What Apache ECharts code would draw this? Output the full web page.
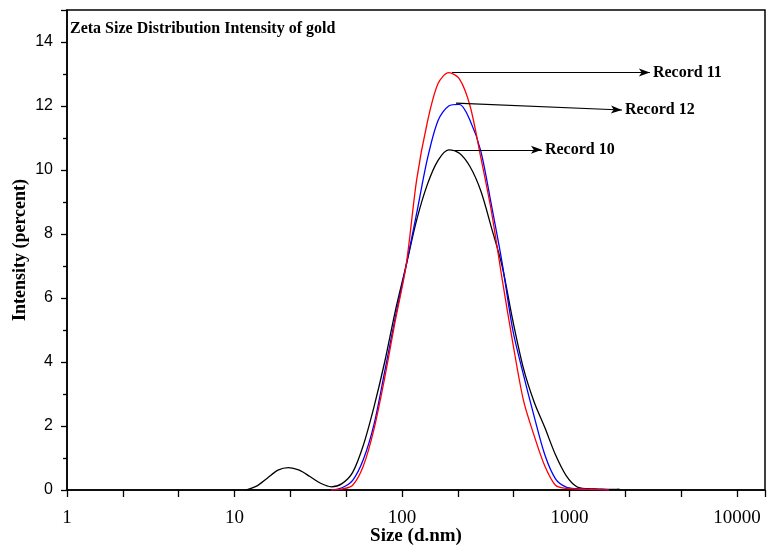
<!DOCTYPE html>
<html>
<head>
<meta charset="utf-8">
<script src="https://cdn.jsdelivr.net/npm/echarts@6/dist/echarts.min.js"></script>
<style>
  html, body { margin: 0; padding: 0; background: #fff; }
  #chart { width: 778px; height: 549px; }
</style>
</head>
<body>
<div id="chart"></div>
<script>
// size bins (d.nm)
const sizes = [11.7, 13.54, 15.69, 18.17, 21.04, 24.36, 28.21, 32.67, 37.84, 43.82,
  50.75, 58.77, 68.06, 78.82, 91.28, 105.7, 122.4, 141.8, 164.2, 190.1,
  220.2, 255, 295.3, 342, 396.1, 458.7, 531.2, 615.1, 712.4, 825,
  955.4, 1106, 1281, 1484, 1718, 1990];

// intensity (percent)
const record10 = [0, 0.12, 0.37, 0.62, 0.70, 0.62, 0.42, 0.21, 0.10, 0.2,
  0.55, 1.4, 2.6, 4.0, 5.6, 7.0, 8.44, 9.55, 10.3, 10.63,
  10.52, 10.1, 9.35, 8.2, 7.0, 5.3, 3.8, 2.75, 1.95, 1.1,
  0.45, 0.1, 0.04, 0.03, 0.02, 0.03];
const record11 = [null, null, null, null, null, null, null, null, 0, 0.03,
  0.15, 0.75, 1.9, 3.5, 5.3, 7.0, 9.7, 11.5, 12.7, 13.04,
  12.85, 12.0, 10.4, 8.7, 6.6, 4.6, 2.8, 1.7, 0.75, 0.15,
  0.05, 0.03, 0.02, 0.01, 0, null];
const record12 = [null, null, null, null, null, null, null, null, 0, 0.07,
  0.3, 0.95, 2.05, 3.7, 5.4, 7.0, 8.65, 10.35, 11.55, 12.0,
  12.05, 11.55, 10.6, 8.9, 7.1, 5.0, 3.6, 2.3, 1.1, 0.35,
  0.09, 0.04, 0.03, 0.02, 0.01, null];

// callouts: label, peak point, arrow tip (data coords)
const noteNames = ['Record 10', 'Record 11', 'Record 12'];
const noteFrom = [[200, 10.63], [199, 13.05], [210, 12.09]];
const noteTo = [[685, 10.63], [3020, 13.05], [2057, 11.875]];

const xMax = 14700;
const serif = 'Liberation Serif';
const sans = 'Liberation Sans';

function pairs(ys){
  return sizes.map((s, i) => [s, ys[i]]);
}

function callout(i){
  return {
    silent: true,
    animation: false,
    symbol: ['none', 'arrow'],
    symbolSize: [6, 11],
    lineStyle: { color: '#000', width: 1.2, type: 'solid' },
    label: {
      show: true,
      position: 'end',
      distance: 3,
      formatter: noteNames[i],
      color: '#000',
      fontFamily: serif,
      fontWeight: 'bold',
      fontSize: 16
    },
    data: [[{ coord: noteFrom[i] }, { coord: noteTo[i] }]]
  };
}

function line(name, ys, color, idx){
  return {
    name: name,
    type: 'line',
    data: pairs(ys),
    showSymbol: false,
    smooth: 0.3,
    connectNulls: false,
    lineStyle: { color: color, width: 1.3 },
    itemStyle: { color: color },
    markLine: callout(idx),
    animation: false
  };
}

const chart = echarts.init(document.getElementById('chart'));
chart.setOption({
  backgroundColor: '#fff',
  title: {
    text: 'Zeta Size Distribution Intensity of gold',
    left: 70,
    top: 21,
    padding: 0,
    textStyle: { fontFamily: serif, fontWeight: 'bold', fontSize: 16, color: '#000' }
  },
  grid: {
    left: 67, right: 13, top: 10, bottom: 59,
    outerBoundsMode: 'none',
    containLabel: false,
    show: true, borderColor: '#000', borderWidth: 1.5, backgroundColor: 'transparent'
  },
  xAxis: [{
    type: 'log',
    logBase: 10,
    min: 1,
    max: xMax,
    position: 'bottom',
    name: 'Size (d.nm)',
    nameLocation: 'middle',
    nameGap: 37,
    nameMoveOverlap: false,
    nameTextStyle: { fontFamily: serif, fontWeight: 'bold', fontSize: 19, color: '#000' },
    axisLine: { lineStyle: { color: '#000', width: 1.5 } },
    axisTick: { show: false },
    minorTick: { show: false },
    splitLine: { show: false },
    axisLabel: {
      margin: 19,
      fontFamily: serif,
      fontSize: 19,
      color: '#000',
      showMaxLabel: false,
      formatter: v => {
        const p = Math.log10(v);
        return Math.abs(p - Math.round(p)) < 1e-6 ? String(Math.round(v)) : '';
      }
    }
  }, {
    // tick marks only: three per decade, evenly spaced in log
    type: 'value',
    min: 0,
    max: Math.log10(xMax),
    interval: 1 / 3,
    position: 'bottom',
    axisLine: { show: false },
    axisLabel: { show: false },
    axisTick: { show: true, inside: false, length: 7, lineStyle: { color: '#000', width: 1.3 } },
    splitLine: { show: false }
  }],
  yAxis: {
    type: 'value',
    min: 0,
    max: 15,
    interval: 2,
    name: 'Intensity (percent)',
    nameLocation: 'middle',
    nameGap: 38,
    nameMoveOverlap: false,
    nameTextStyle: { fontFamily: serif, fontWeight: 'bold', fontSize: 18, color: '#000' },
    axisLine: { show: true, lineStyle: { color: '#000', width: 1.5 } },
    axisTick: { show: true, inside: false, length: 6, lineStyle: { color: '#000', width: 1.3 } },
    minorTick: { show: true, splitNumber: 2, length: 4, lineStyle: { color: '#000', width: 1.3 } },
    splitLine: { show: false },
    axisLabel: {
      margin: 14,
      fontFamily: sans,
      fontSize: 16,
      color: '#000',
      showMaxLabel: false,
      formatter: v => (v % 2 === 0 ? String(v) : '')
    }
  },
  series: [
    line('Record 10', record10, '#000000', 0),
    line('Record 12', record12, '#0000ff', 2),
    line('Record 11', record11, '#ff0000', 1)
  ]
});
</script>
</body>
</html>
